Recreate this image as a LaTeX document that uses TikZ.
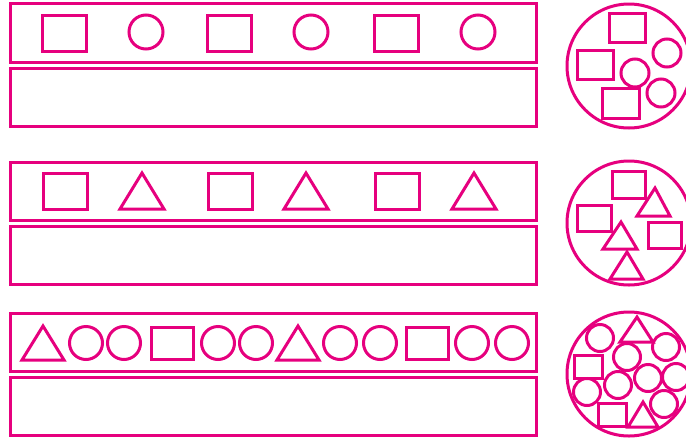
\documentclass[tikz,border=0pt]{standalone}
\definecolor{mag}{RGB}{230,0,126}
\begin{document}
\begin{tikzpicture}[x=1pt,y=-1pt,
  shp/.style={draw=mag,line width=3pt},
  line join=miter]
\useasboundingbox (0,0) rectangle (686,440);
\clip (0,0) rectangle (686,440);
% ---------- row 1 ----------
\draw[shp] (10,3) rectangle (536,62);
\draw[shp] (10,68) rectangle (536,126);
\foreach \x in {42,207,374}{\draw[shp] (\x,15) rectangle ++(44,36);}
\foreach \x in {146,311,478}{\draw[shp] (\x,32) circle (17);}
% ---------- row 2 ----------
\draw[shp] (10,162) rectangle (536,220);
\draw[shp] (10,226) rectangle (536,284);
\foreach \x in {43,208,375}{\draw[shp] (\x,173) rectangle ++(44,36);}
\foreach \x in {142,306,474}{\draw[shp] (\x-22,209) -- (\x,173) -- (\x+22,209) -- cycle;}
% ---------- row 3 ----------
\draw[shp] (10,313) rectangle (536,371);
\draw[shp] (10,377) rectangle (536,435);
\foreach \x in {43,298}{\draw[shp] (\x-21,360) -- (\x,326) -- (\x+21,360) -- cycle;}
\foreach \x in {86,124,218,256,340,380,472,512}{\draw[shp] (\x,343) circle (16.5);}
\foreach \x in {151,406}{\draw[shp] (\x,327) rectangle ++(42,32);}
% ---------- big circle 1 ----------
\draw[shp] (629,66) circle (62);
\draw[shp] (609,13) rectangle (645,42);
\draw[shp] (577,50) rectangle (613,79);
\draw[shp] (602,88) rectangle (639,118);
\draw[shp] (635,73) circle (14);
\draw[shp] (667,53) circle (14);
\draw[shp] (661,93) circle (14);
% ---------- big circle 2 ----------
\draw[shp] (629,223) circle (62);
\draw[shp] (612,171) rectangle (645,198);
\draw[shp] (577,205) rectangle (611,231);
\draw[shp] (648,222) rectangle (681,248);
\draw[shp] (637,216) -- (655,188) -- (670,216) -- cycle;
\draw[shp] (603,249) -- (621,222) -- (637,249) -- cycle;
\draw[shp] (610,279) -- (627,252) -- (643,279) -- cycle;
% ---------- big circle 3 ----------
\draw[shp] (629,374) circle (62);
\draw[shp] (574,355) rectangle (602,378);
\draw[shp] (598,403) rectangle (626,426);
\draw[shp] (620,342) -- (637,317) -- (653,342) -- cycle;
\draw[shp] (628,427) -- (643,402) -- (658,427) -- cycle;
\foreach \p in {(600,338),(666,347),(627,357),(648,378),(676,377),(618,385),(587,392),(664,404)}
  {\draw[shp] \p circle (13.5);}
\end{tikzpicture}
\end{document}
